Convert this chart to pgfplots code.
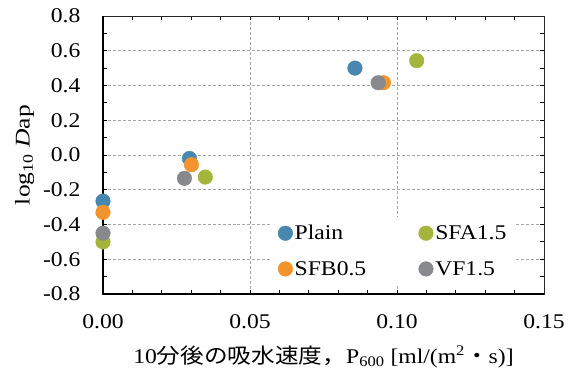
\documentclass[border=0pt]{standalone}
\usepackage{pgfplots}
\pgfplotsset{compat=1.18}
\usepackage{fontspec}
\setmainfont{Liberation Serif}
\newfontfamily\jp{Noto Sans CJK JP}
\definecolor{cPlain}{RGB}{72,135,176}
\definecolor{cSFA}{RGB}{163,181,58}
\definecolor{cSFB}{RGB}{242,148,46}
\definecolor{cVF}{RGB}{136,137,141}
\newcommand{\wide}[1]{\scalebox{1.13}[1]{#1}}
\begin{document}
\begin{tikzpicture}
\useasboundingbox (-103bp,-82bp) rectangle (468bp,294bp);
\begin{axis}[
  scale only axis,
  width=441bp, height=278bp,
  xmin=0, xmax=0.15, ymin=-0.8, ymax=0.8,
  xtick={0,0.05,0.10,0.15},
  ytick={-0.8,-0.6,-0.4,-0.2,0,0.2,0.4,0.6,0.8},
  minor x tick num=4, minor y tick num=1,
  tick align=inside,
  major tick length=4bp, minor tick length=4bp,
  every tick/.style={black, line width=0.8pt},
  /pgf/number format/assume math mode=true,
  xticklabel={\wide{\pgfmathprintnumber[fixed,fixed zerofill,precision=2]{\tick}}},
  yticklabel={\wide{\pgfmathprintnumber[fixed,fixed zerofill,precision=1]{\tick}}},
  tick label style={font=\fontsize{21}{24}\selectfont},
  label style={font=\fontsize{21}{24}\selectfont},
  xlabel={\wide{10{\jp 分後の吸水速度，}P\textsubscript{600} [ml/(m\textsuperscript{2}{\jp ・}s)]}},
  ylabel={\scalebox{1.22}[1]{log\textsubscript{10} \textit{D}ap}},
  xticklabel shift=17bp, yticklabel shift=19bp,
  xlabel shift=10bp, ylabel shift=2bp,
  grid=major,
  major grid style={densely dashed, gray!70, line width=0.6pt},
  axis line style={black!85, line width=1pt},
  clip=false,
  legend columns=2,
  legend cell align=left,
  legend style={at={(0.383,0.033)}, anchor=south west, draw=none, fill=white,
    font=\fontsize{21}{24}\selectfont, inner xsep=6bp, inner ysep=6bp,
    row sep=16bp},
]
\draw[black, line width=2.5pt] (rel axis cs:0,1) -- (rel axis cs:0,0) -- (rel axis cs:1,0);
\addplot[only marks, mark=*, mark size=7.3bp, color=cPlain] coordinates {(0,-0.265) (0.0294,-0.02) (0.0857,0.50)};
\addlegendentry{\makebox[122bp][l]{\wide{Plain}}}
\addplot[only marks, mark=*, mark size=7.3bp, color=cSFA] coordinates {(0,-0.50) (0.0348,-0.127) (0.1067,0.543)};
\addlegendentry{\wide{SFA1.5}}
\addplot[only marks, mark=*, mark size=7.3bp, color=cSFB] coordinates {(0,-0.33) (0.0301,-0.056) (0.0954,0.416)};
\addlegendentry{\makebox[122bp][l]{\wide{SFB0.5}}}
\addplot[only marks, mark=*, mark size=7.3bp, color=cVF] coordinates {(0,-0.45) (0.0277,-0.134) (0.0936,0.416)};
\addlegendentry{\wide{VF1.5}}
\end{axis}
\end{tikzpicture}
\end{document}
